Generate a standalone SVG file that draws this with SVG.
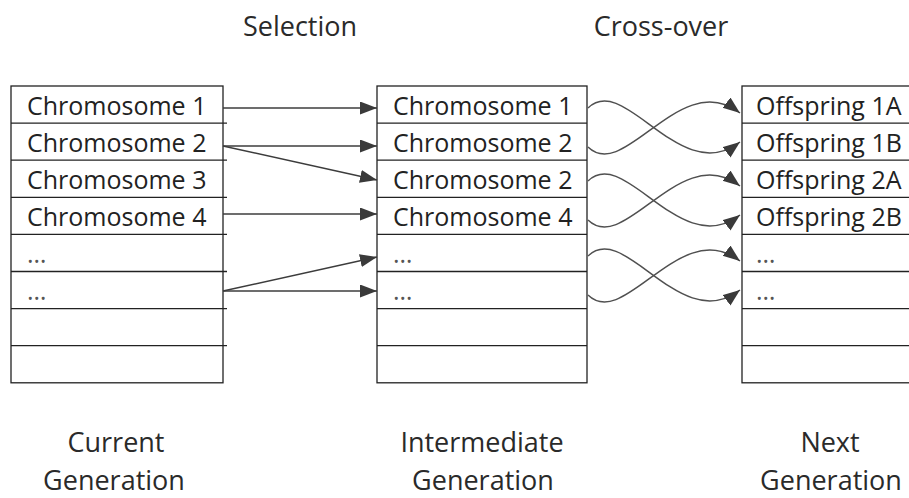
<svg xmlns="http://www.w3.org/2000/svg" width="909" height="498" viewBox="0 0 909 498">
  <style>
    .cell { fill: #ffffff; stroke: #222222; stroke-width: 1.3; }
    .tick { stroke: #222222; stroke-width: 1.3; }
    .row { font-family: "Open Sans", "Liberation Sans", sans-serif; font-size: 25px; fill: #222222; }
    .dots { font-family: "Open Sans", "Liberation Sans", sans-serif; font-size: 25px; fill: #555555; }
    .title { font-family: "Open Sans", "Liberation Sans", sans-serif; font-size: 27px; fill: #2a2a2a; text-anchor: middle; }
    .sel { fill: none; stroke: #3c3c3c; stroke-width: 1.5; marker-end: url(#head); }
    .cross { fill: none; stroke: #505050; stroke-width: 1.5; marker-end: url(#head); }
  </style>
  <defs>
    <marker id="head" markerUnits="userSpaceOnUse" markerWidth="18" markerHeight="14" refX="17" refY="6.5" orient="auto">
      <path d="M0,0 L17,6.5 L0,13 z" fill="#3a3a3a"/>
    </marker>
  </defs>

  <rect width="909" height="498" fill="#ffffff"/>

  <!-- step titles -->
  <g id="title-selection"><text class="title" x="300" y="36">Selection</text></g>
  <g id="title-crossover"><text class="title" x="661" y="36">Cross-over</text></g>

  <!-- current generation: eight rows of 37.1 px -->
  <g id="current-generation">
    <rect class="cell" x="11" y="86" width="212" height="296.8"/>
    <line class="tick" x1="11" y1="123.1" x2="227" y2="123.1"/>
    <line class="tick" x1="11" y1="160.2" x2="227" y2="160.2"/>
    <line class="tick" x1="11" y1="197.3" x2="227" y2="197.3"/>
    <line class="tick" x1="11" y1="234.4" x2="227" y2="234.4"/>
    <line class="tick" x1="11" y1="271.5" x2="227" y2="271.5"/>
    <line class="tick" x1="11" y1="308.6" x2="227" y2="308.6"/>
    <line class="tick" x1="11" y1="345.7" x2="227" y2="345.7"/>
    <text class="row" x="27" y="115">Chromosome 1</text>
    <text class="row" x="27" y="152">Chromosome 2</text>
    <text class="row" x="27" y="189">Chromosome 3</text>
    <text class="row" x="27" y="226">Chromosome 4</text>
    <text class="dots" x="27" y="263">…</text>
    <text class="dots" x="27" y="300">…</text>
  </g>

  <!-- intermediate generation -->
  <g id="intermediate-generation">
    <rect class="cell" x="377" y="86" width="210" height="296.8"/>
    <line class="tick" x1="377" y1="123.1" x2="587" y2="123.1"/>
    <line class="tick" x1="377" y1="160.2" x2="587" y2="160.2"/>
    <line class="tick" x1="377" y1="197.3" x2="587" y2="197.3"/>
    <line class="tick" x1="377" y1="234.4" x2="587" y2="234.4"/>
    <line class="tick" x1="377" y1="271.5" x2="587" y2="271.5"/>
    <line class="tick" x1="377" y1="308.6" x2="587" y2="308.6"/>
    <line class="tick" x1="377" y1="345.7" x2="587" y2="345.7"/>
    <text class="row" x="393" y="115">Chromosome 1</text>
    <text class="row" x="393" y="152">Chromosome 2</text>
    <text class="row" x="393" y="189">Chromosome 2</text>
    <text class="row" x="393" y="226">Chromosome 4</text>
    <text class="dots" x="393" y="263">…</text>
    <text class="dots" x="393" y="300">…</text>
  </g>

  <!-- next generation (runs off the right edge) -->
  <g id="next-generation">
    <rect class="cell" x="742" y="86" width="180" height="296.8"/>
    <line class="tick" x1="742" y1="123.1" x2="909" y2="123.1"/>
    <line class="tick" x1="742" y1="160.2" x2="909" y2="160.2"/>
    <line class="tick" x1="742" y1="197.3" x2="909" y2="197.3"/>
    <line class="tick" x1="742" y1="234.4" x2="909" y2="234.4"/>
    <line class="tick" x1="742" y1="271.5" x2="909" y2="271.5"/>
    <line class="tick" x1="742" y1="308.6" x2="909" y2="308.6"/>
    <line class="tick" x1="742" y1="345.7" x2="909" y2="345.7"/>
    <text class="row" x="756" y="115">Offspring 1A</text>
    <text class="row" x="756" y="152">Offspring 1B</text>
    <text class="row" x="756" y="189">Offspring 2A</text>
    <text class="row" x="756" y="226">Offspring 2B</text>
    <text class="dots" x="756" y="263">…</text>
    <text class="dots" x="756" y="300">…</text>
  </g>

  <!-- connectors -->
  <g id="connectors">
    <!-- selection -->
    <line class="sel" x1="223" y1="108" x2="377" y2="108"/>
    <line class="sel" x1="223" y1="146" x2="377" y2="146"/>
    <line class="sel" x1="223" y1="146" x2="377" y2="180"/>
    <line class="sel" x1="223" y1="214" x2="377" y2="214"/>
    <line class="sel" x1="223" y1="291" x2="377" y2="257"/>
    <line class="sel" x1="223" y1="291" x2="377" y2="291"/>
    <!-- cross-over pairs -->
    <path class="cross" d="M588,108 C625,72 680,188 740,142"/>
    <path class="cross" d="M588,147 C625,183 680,67 740,113"/>
    <path class="cross" d="M588,181 C625,145 680,261 740,215"/>
    <path class="cross" d="M588,220 C625,256 680,140 740,186"/>
    <path class="cross" d="M588,256 C625,220 680,336 740,290"/>
    <path class="cross" d="M588,295 C625,331 680,215 740,261"/>
  </g>

  <!-- generation captions -->
  <g id="caption-current">
    <text class="title" x="116" y="452">Current</text>
    <text class="title" x="114" y="490">Generation</text>
  </g>
  <g id="caption-intermediate">
    <text class="title" x="482" y="452">Intermediate</text>
    <text class="title" x="483" y="490">Generation</text>
  </g>
  <g id="caption-next">
    <text class="title" x="830" y="452">Next</text>
    <text class="title" x="831" y="490">Generation</text>
  </g>
</svg>
